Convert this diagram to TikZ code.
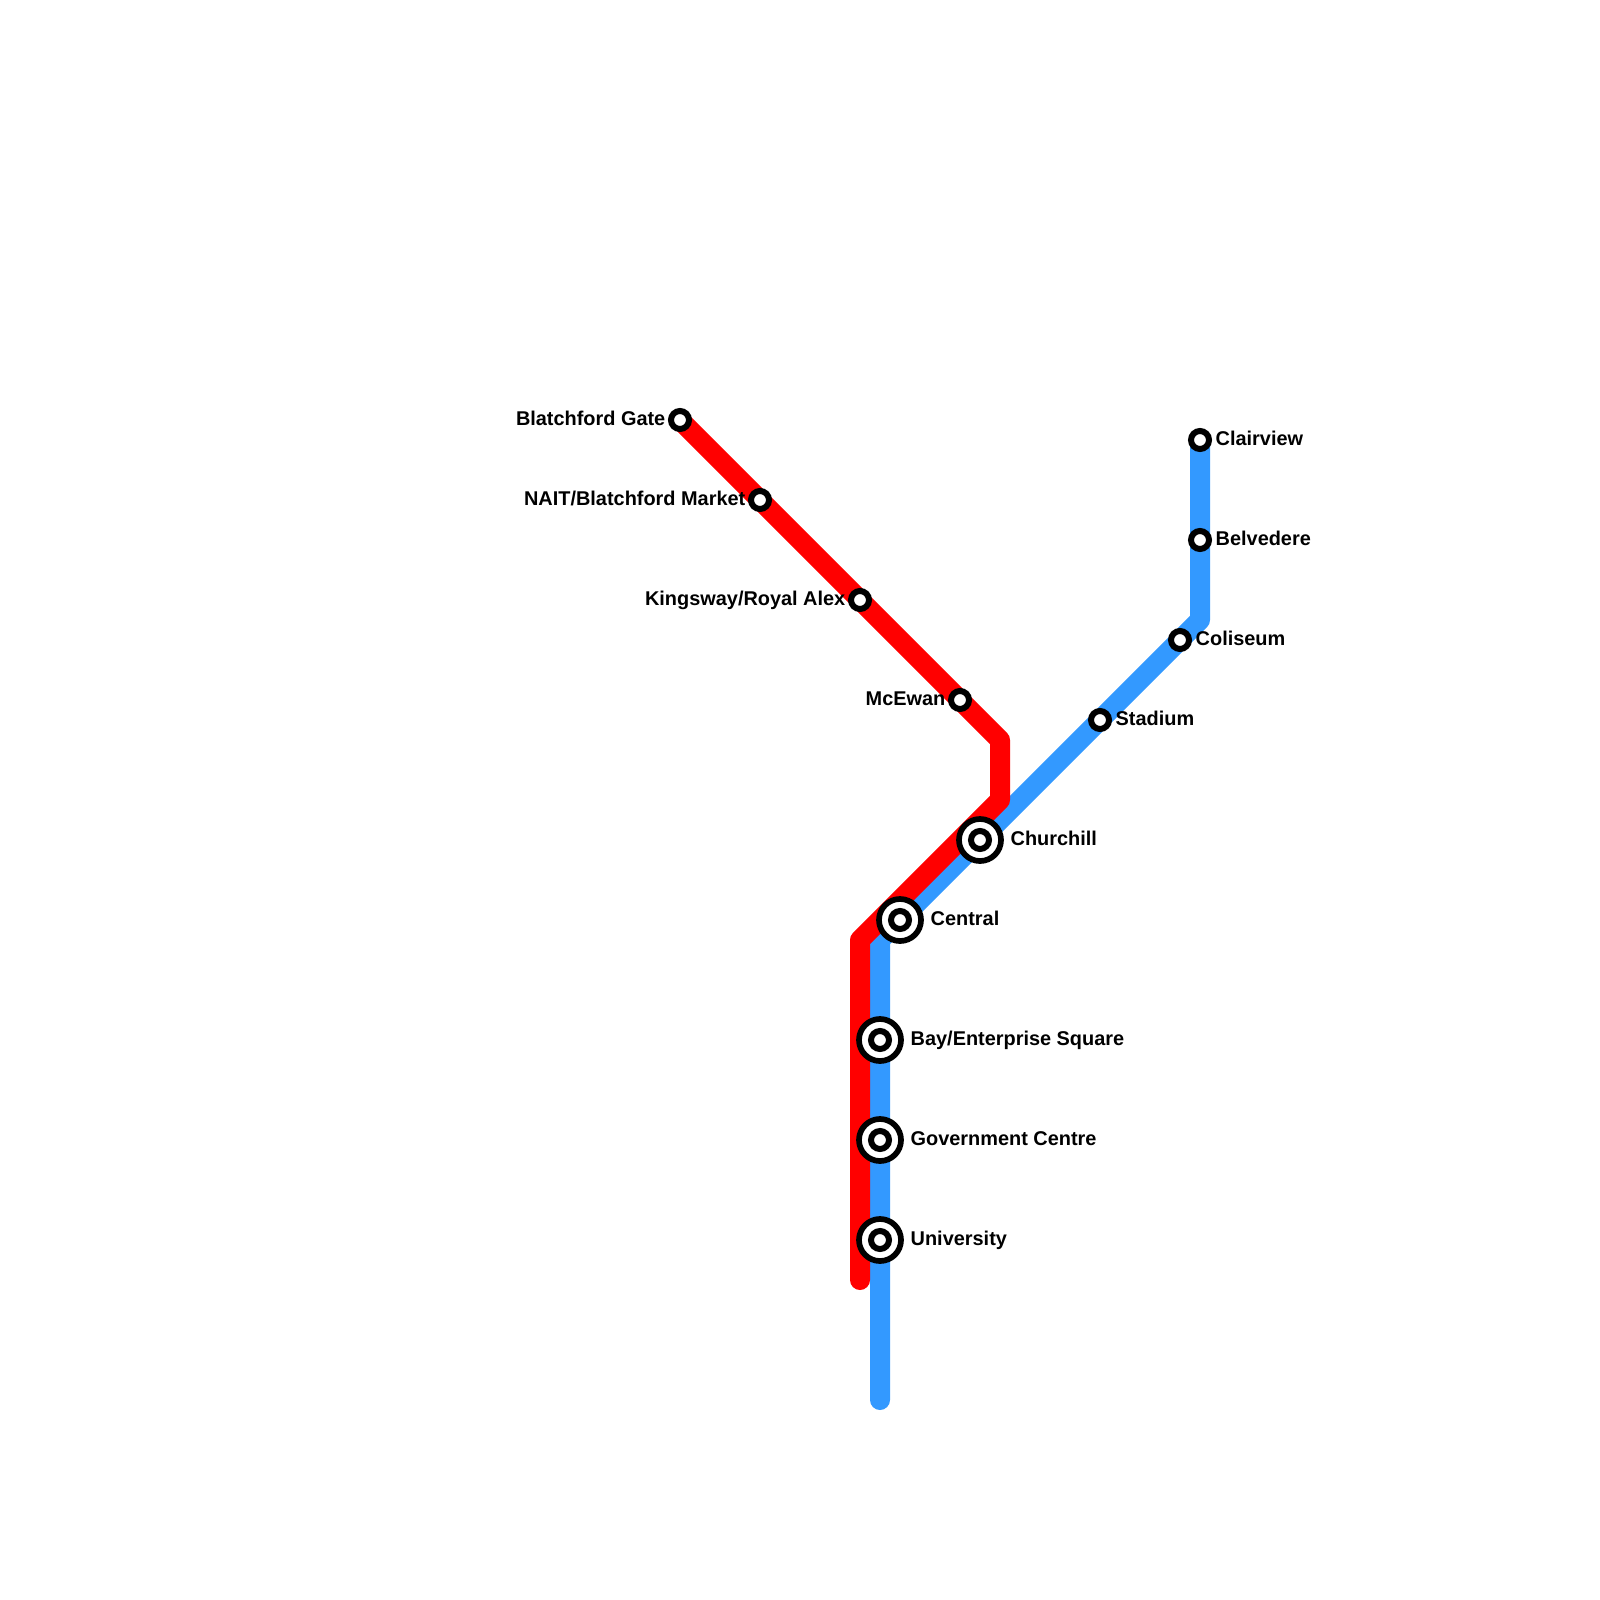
\documentclass[tikz,border=0pt]{standalone}
\usepackage{fontspec}
\setmainfont{Liberation Sans}
\usepackage{xcolor}
\usepackage{tikz}
\usetikzlibrary{backgrounds}
\definecolor{LineRed}{HTML}{FF0000}
\definecolor{LineBlue}{HTML}{3399FF}

\begin{document}
\begin{tikzpicture}[
  x=0.01cm, y=-0.01cm,
  every node/.style={font=\fontsize{5.66}{7}\selectfont\bfseries, inner sep=0pt},
  route/.style={line width=0.2cm, line cap=round, line join=round},
  stop/.style={draw=black, line width=0.06cm, fill=white, circle, minimum size=0.18cm},
  hub/.style={draw=black, line width=0.057cm, fill=white, circle, minimum size=0.42cm},
  lblleft/.style={anchor=base east},
  lblright/.style={anchor=base west}]

  \useasboundingbox (0,0) rectangle (1600,1600);

  % ===== bends and line ends =====
  \coordinate (redend)   at (860,1280);
  \coordinate (redlow)   at (860,940);
  \coordinate (redmid)   at (1000,800);
  \coordinate (redhigh)  at (1000,740);
  \coordinate (blueend)  at (880,1400);
  \coordinate (bluelow)  at (880,940);
  \coordinate (bluehigh) at (1200,620);

  % ===== single stops =====
  \node[stop] (blatchford) at (680,420)  {};
  \node[stop] (nait)       at (760,500)  {};
  \node[stop] (kingsway)   at (860,600)  {};
  \node[stop] (mcewan)     at (960,700)  {};
  \node[stop] (clairview)  at (1200,440) {};
  \node[stop] (belvedere)  at (1200,540) {};
  \node[stop] (coliseum)   at (1180,640) {};
  \node[stop] (stadium)    at (1100,720) {};

  % ===== interchange stops =====
  \node[hub] (churchill)  at (980,840)  {};
  \node[hub] (central)    at (900,920)  {};
  \node[hub] (bay)        at (880,1040) {};
  \node[hub] (government) at (880,1140) {};
  \node[hub] (university) at (880,1240) {};
  \node[stop] (churchilldot)  at (churchill)  {};
  \node[stop] (centraldot)    at (central)    {};
  \node[stop] (baydot)        at (bay)        {};
  \node[stop] (governmentdot) at (government) {};
  \node[stop] (universitydot) at (university) {};

  % ===== lines =====
  \begin{scope}[on background layer]
    \draw[route, LineBlue] (blueend) -- (bluelow) -- (bluehigh) -- (clairview.center);
    \draw[route, LineRed] (redend) -- (redlow) -- (redmid) -- (redhigh) -- (blatchford.center);
  \end{scope}

  % ===== labels =====
  \node[lblleft] (blatchfordlbl) at (666,425)  {Blatchford Gate};
  \node[lblleft] (naitlbl)       at (746,505)  {NAIT/Blatchford Market};
  \node[lblleft] (kingswaylbl)   at (846,605)  {Kingsway/Royal Alex};
  \node[lblleft] (mcewanlbl)     at (946,705)  {McEwan};
  \node[lblright] (clairviewlbl) at (1215,445) {Clairview};
  \node[lblright] (belvederelbl) at (1215,545) {Belvedere};
  \node[lblright] (coliseumlbl)  at (1195,645) {Coliseum};
  \node[lblright] (stadiumlbl)   at (1115,725) {Stadium};
  \node[lblright] (churchilllbl) at (1010,845) {Churchill};
  \node[lblright] (centrallbl)   at (930,925)  {Central};
  \node[lblright] (baylbl)       at (910,1045) {Bay/Enterprise Square};
  \node[lblright] (governmentlbl) at (910,1145) {Government Centre};
  \node[lblright] (universitylbl) at (910,1245) {University};

\end{tikzpicture}
\end{document}
